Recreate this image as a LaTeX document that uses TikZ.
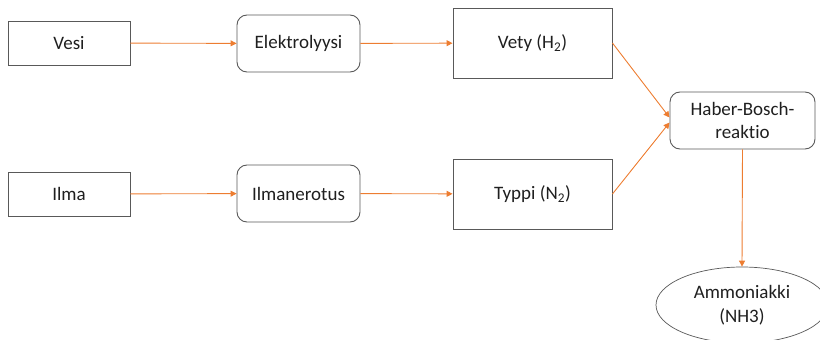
\documentclass[tikz,border=0pt]{standalone}
\usepackage{fontspec}
\setmainfont{Carlito}[Ligatures={NoCommon}]
\usetikzlibrary{arrows.meta,shapes.geometric}
\definecolor{boxline}{HTML}{595959}
\definecolor{flow}{HTML}{ED7D31}
\begin{document}
\begin{tikzpicture}[x=1pt,y=-1pt,
  base/.style={draw=boxline,line width=0.9pt,text=black!88,align=center,
    font=\fontsize{19}{23.5}\selectfont,inner sep=0pt},
  plainbox/.style={base,rectangle},
  roundbox/.style={base,rectangle,rounded corners=10pt},
  endbox/.style={base,ellipse,line width=0.7pt},
  flowarrow/.style={draw=flow,line width=0.9pt,
    -{Triangle[length=6pt,width=6pt,fill=flow]}}]
\useasboundingbox (0,0) rectangle (820,340);
% top row
\node[plainbox,minimum width=122pt,minimum height=44pt] (vesi) at (69,43) {Vesi};
\node[roundbox,minimum width=123pt,minimum height=57pt] (elek) at (298.5,43.5) {Elektrolyysi};
\node[plainbox,minimum width=159pt,minimum height=70pt] (vety) at (532.5,43) {Vety (H\textsubscript{2})};
% bottom row
\node[plainbox,minimum width=122pt,minimum height=44pt] (ilma) at (69,194) {Ilma};
\node[roundbox,minimum width=123pt,minimum height=57pt] (ilman) at (298.5,193.5) {Ilmanerotus};
\node[plainbox,minimum width=159pt,minimum height=70pt] (typpi) at (532.5,194) {Typpi (N\textsubscript{2})};
% reaction and product
\node[roundbox,minimum width=145pt,minimum height=57pt] (hb) at (742.5,120.5) {Haber-Bosch-\\reaktio};
\node[endbox,minimum width=172pt,minimum height=76pt] (nh3) at (742,305) {Ammoniakki\\(NH3)};
% connectors
\draw[flowarrow] (vesi) -- (elek);
\draw[flowarrow] (elek) -- (vety);
\draw[flowarrow] (ilma) -- (ilman);
\draw[flowarrow] (ilman) -- (typpi);
\draw[flowarrow] (vety.east) -- ([yshift=3pt]hb.west);
\draw[flowarrow] (typpi.east) -- ([yshift=-2pt]hb.west);
\draw[flowarrow] (hb.south) -- (nh3.north);
\end{tikzpicture}
\end{document}
